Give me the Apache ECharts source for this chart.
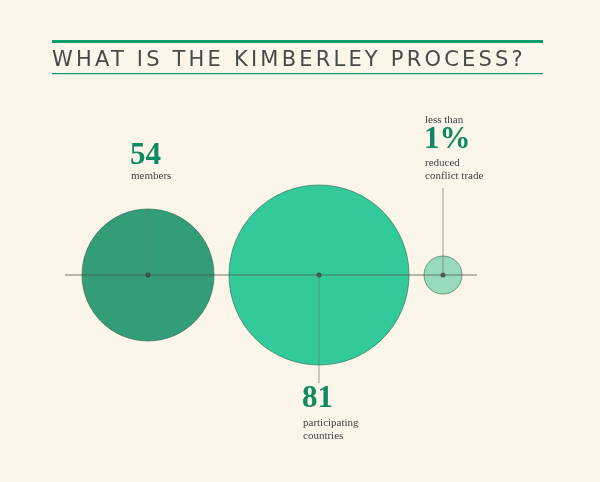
<!DOCTYPE html><html><head><meta charset="utf-8">
<script src="https://cdn.jsdelivr.net/npm/echarts@6/dist/echarts.min.js"></script>
<style>body{margin:0;background:#FBF5EA}#c{width:600px;height:482px;position:absolute;left:0;top:0}
#t{position:absolute;left:52px;top:47px;font-family:"DejaVu Sans";font-size:21px;letter-spacing:3.2px;color:#4a4a4a;white-space:nowrap}</style></head><body>
<div id="c"></div><div id="t">WHAT IS THE KIMBERLEY PROCESS?</div>
<script>
const categories=['members','participating countries','reduced conflict trade'];
const values=['54','81','1%'];
const positions=[148,319,443];
const sizes=[132,180,38];
const colors=['#00875A','#00BF87','#7FD4B0'];
const axisY=275;
const chart=echarts.init(document.getElementById('c'));
const serif='"Liberation Serif", "DejaVu Serif", serif';
chart.setOption({
 backgroundColor:'#FBF5EA',
 grid:{left:0,right:0,top:0,bottom:0},
 xAxis:{type:'value',min:0,max:600,show:false},
 yAxis:{type:'value',min:0,max:482,inverse:true,show:false},
 series:[{type:'scatter',silent:true,
  data:positions.map((x,i)=>({value:[x,axisY],symbolSize:sizes[i],itemStyle:{color:colors[i],borderColor:'#2a6b50',borderWidth:0.8}})),
  z:2},
 {type:'scatter',silent:true,symbolSize:5,itemStyle:{color:'#333'},data:positions.map(x=>[x,axisY]),z:5}],
 graphic:[
  {type:'rect',shape:{x:52,y:40,width:491,height:3},style:{fill:'#0E9F6E'}},
  {type:'rect',shape:{x:52,y:73,width:491,height:1.2},style:{fill:'#0E9F6E'}},
  {type:'line',shape:{x1:65,y1:axisY,x2:477,y2:axisY},style:{stroke:'#555',lineWidth:0.8},z:10},
  {type:'line',shape:{x1:positions[0],y1:209,x2:positions[0],y2:axisY},style:{stroke:'#777',lineWidth:0.7},z:10},
  {type:'line',shape:{x1:positions[1],y1:axisY,x2:positions[1],y2:383},style:{stroke:'#777',lineWidth:0.7},z:10},
  {type:'line',shape:{x1:positions[2],y1:188,x2:positions[2],y2:axisY},style:{stroke:'#777',lineWidth:0.7},z:10},
  {type:'text',left:130,top:140,style:{text:values[0],font:'bold 31px '+serif,fill:'#0E8A5F'}},
  {type:'text',left:131,top:171,style:{text:categories[0],font:'11px '+serif,fill:'#444'}},
  {type:'text',left:302,top:383,style:{text:values[1],font:'bold 31px '+serif,fill:'#0E8A5F'}},
  {type:'text',left:303,top:417,style:{text:'participating\ncountries',font:'11px '+serif,fill:'#444',lineHeight:13}},
  {type:'text',left:425,top:115,style:{text:'less than',font:'11px '+serif,fill:'#444'}},
  {type:'text',left:424,top:124,style:{text:values[2],font:'bold 31px '+serif,fill:'#0E8A5F'}},
  {type:'text',left:425,top:157,style:{text:'reduced\nconflict trade',font:'11px '+serif,fill:'#444',lineHeight:13}}
 ]
});
</script></body></html>
